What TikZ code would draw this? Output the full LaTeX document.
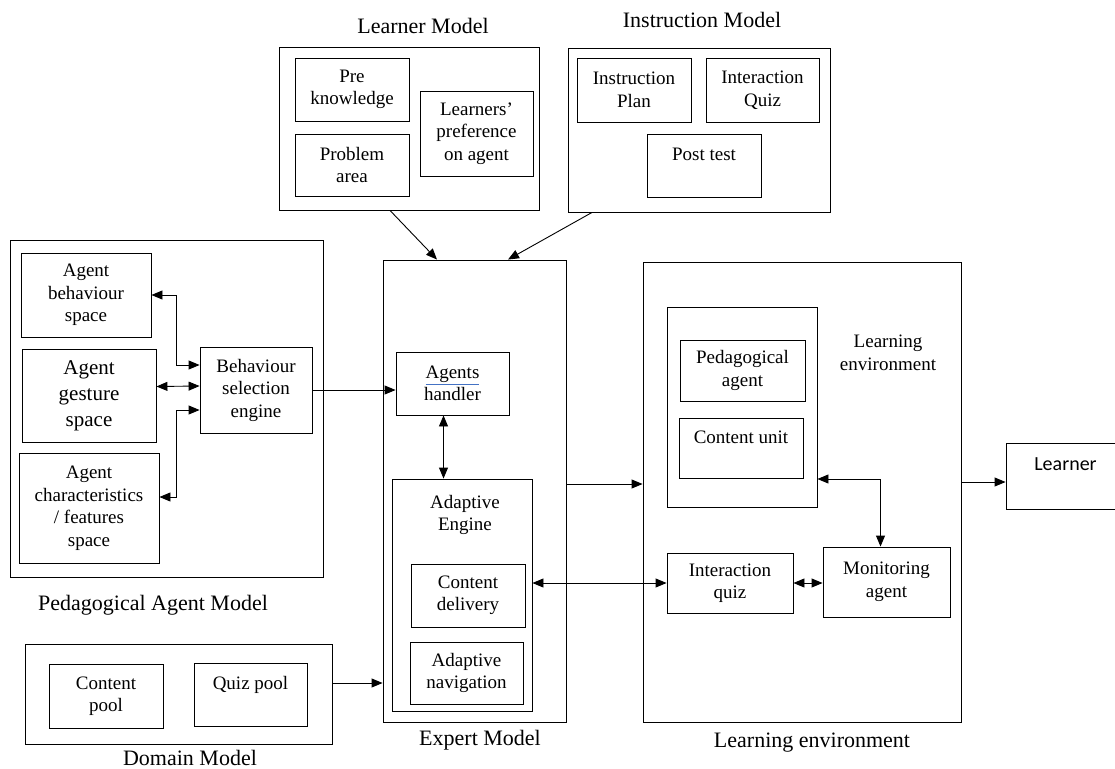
\documentclass[tikz,border=0pt]{standalone}
\usepackage{fontspec}
\setmainfont{Liberation Serif}
\newfontfamily\learnerfont{Carlito}
\usetikzlibrary{arrows.meta}
\definecolor{spellblue}{RGB}{68,114,196}
\newcommand{\boxfont}{\fontsize{19}{22.5}\selectfont}
\newcommand{\bigboxfont}{\fontsize{21}{26}\selectfont}
\newcommand{\titlefont}{\fontsize{22}{25}\selectfont}
\newcommand{\agentsword}{\textcolor{spellblue}{\underline{\textcolor{black}{Agents}}}}

\begin{document}
\begin{tikzpicture}[x=1pt, y=-1pt, line width=0.9pt,
    >={Triangle[length=11pt,width=9pt]},
    every node/.style={font=\boxfont, align=center},
    box/.style 2 args={draw, inner sep=1pt, minimum width=#1pt, minimum height=#2pt},
    title/.style={font=\titlefont, anchor=base}]
    \useasboundingbox (0,0) rectangle (1115,768);

    % Learner model
    \node[title] (lmtitle) at (423,34) {Learner Model};
    \node[box={260}{163}] (lm) at (409,128.5) {};
    \node[box={114}{63}] (pk) at (352,89.5) {Pre\\knowledge};
    \node[box={114}{62}] (pa) at (352,165) {Problem\\area};
    \node[box={113}{85}] (lp) at (476.5,133.5) {Learners’\\preference\\on agent};

    % Instruction model
    \node[title] (imtitle) at (702,28) {Instruction Model};
    \node[box={262}{164}] (im) at (699,130) {};
    \node[box={114}{64}] (ip) at (634,90) {Instruction\\Plan};
    \node[box={113}{64}] (iqz) at (762.5,90) {Interaction\\Quiz};
    \node[box={114}{63}] (pt) at (704,165.5) {Post test\\~};

    % Pedagogical agent model
    \node[box={313}{337}] (pam) at (166.5,408.5) {};
    \node[box={130}{84}] (bspace) at (86,295) {Agent\\behaviour\\space};
    \node[box={134}{93}, font=\bigboxfont] (gspace) at (89,395.5) {Agent\\gesture\\space};
    \node[box={140}{110}] (cspace) at (89,508) {Agent\\characteristics\\/ features\\space};
    \node[box={112}{86}] (bse) at (256,390) {Behaviour\\selection\\engine};
    \node[title] (pamtitle) at (153,610) {Pedagogical Agent Model};

    % Domain model
    \node[box={307}{100}] (dm) at (178.5,694) {};
    \node[box={114}{64}] (cp) at (106,696) {Content\\pool};
    \node[box={113}{63}] (qp) at (250.5,694.5) {Quiz pool\\~};
    \node[title] (dmtitle) at (190,765) {Domain Model};

    % Expert model
    \node[box={183}{462}] (em) at (474.5,491) {};
    \node[box={113}{63}] (ah) at (452.5,383.5) {\agentsword\\handler};
    \node[box={140}{232}] (ae) at (462,595) {};
    \node (aetext) at (465,515) {Adaptive\\Engine};
    \node[box={114}{63}] (cd) at (468,595.5) {Content\\delivery};
    \node[box={113}{62}] (an) at (466.5,673) {Adaptive\\navigation};
    \node[title] (emtitle) at (480,745) {Expert Model};

    % Learning environment
    \node[box={318}{460}] (le) at (802,492) {};
    \node[box={150}{200}] (lc) at (742,407) {};
    \node[box={125}{61}] (pag) at (742.5,370.5) {Pedagogical\\agent};
    \node[box={124}{60}] (cu) at (741,448) {Content unit\\~};
    \node (letext) at (888,353) {Learning\\environment};
    \node[box={126}{60}] (iq) at (730,583) {Interaction\\quiz};
    \node[box={127}{70}] (ma) at (886.5,582) {Monitoring\\agent};
    \node[title] (letitle) at (812,747) {Learning environment};

    % Learner
    \node[box={119}{66}, font=\learnerfont\fontsize{20}{24}\selectfont] (lr) at (1065.5,476) {Learner\\~};

    % Connectors
    \draw[<->] ([yshift=25pt]bse.west) -- ++(-23,0) |- (bspace.east);
    \draw[<->] ([yshift=9pt]gspace.east) -- ([yshift=4pt]bse.west);
    \draw[<->] ([yshift=-20pt]bse.west) -- ++(-23,0) |- ([yshift=11pt]cspace.east);
    \draw[->] (bse.east) -- (bse.east -| ah.west);
    \coordinate (ahs) at ([xshift=-9pt]ah.south);
    \draw[<->] (ahs) -- (ahs |- ae.north);
    \draw[->] ([xshift=-19pt]lm.south) -- ([xshift=-37.5pt]em.north);
    \draw[->] ([xshift=-107pt]im.south) -- ([xshift=33.5pt]em.north);
    \coordinate (dmout) at ([yshift=11pt]dm.east);
    \draw[->] (dmout) -- (dmout -| em.west);
    \coordinate (emout) at ([yshift=7pt]em.east);
    \draw[->] (emout) -- (emout -| le.west);
    \draw[<->] (ae.east |- iq.west) -- (iq.west);
    \draw[<->] ([yshift=-72pt]lc.east) -| ([xshift=-6pt]ma.north);
    \draw[<->] (iq.east) -- (iq.east -| ma.west);
    \coordinate (leout) at ([yshift=10pt]le.east);
    \draw[->] (leout) -- (leout -| lr.west);
\end{tikzpicture}
\end{document}
